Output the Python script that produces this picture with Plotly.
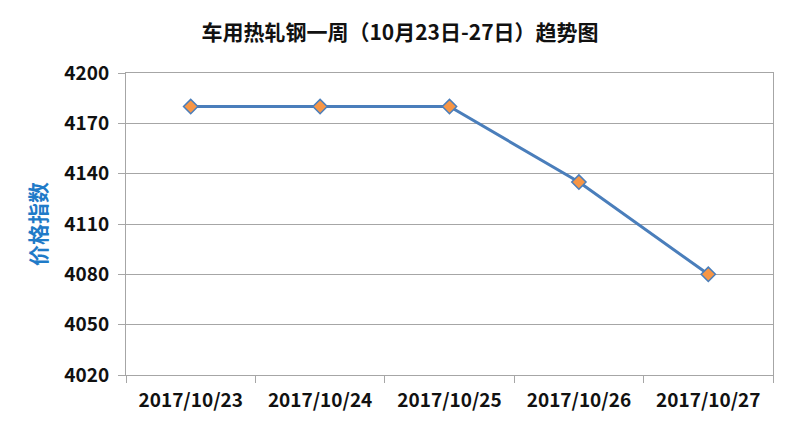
import plotly.graph_objects as go

# data
dates = ["2017/10/23", "2017/10/24", "2017/10/25", "2017/10/26", "2017/10/27"]
price_index = [4180, 4180, 4180, 4135, 4080]
y_ticks = [4020, 4050, 4080, 4110, 4140, 4170, 4200]

FONT = "Noto Sans CJK SC"

fig = go.Figure()

fig.add_trace(go.Scatter(
    x=dates,
    y=price_index,
    mode="lines+markers",
    line=dict(color="#4A7EBB", width=3),
    marker=dict(symbol="diamond", size=11, color="#F79646",
                line=dict(color="#4A7EBB", width=1.5)),
    showlegend=False,
))

# note: the page body has an 8px margin, so margins are shifted by 8
fig.update_layout(
    width=800,
    height=424,
    paper_bgcolor="white",
    plot_bgcolor="white",
    margin=dict(l=118, r=35, t=65, b=57),
    title=dict(
        text="<b>车用热轧钢一周（10月23日-27日）趋势图</b>",
        x=0.49, xanchor="center", y=0.943, yanchor="middle",
        font=dict(family=FONT, size=21, color="#111111"),
    ),
    xaxis=dict(
        type="category",
        tickson="boundaries",
        ticks="outside",
        ticklen=7,
        tickcolor="#A6A6A6",
        showline=True,
        linecolor="#A6A6A6",
        mirror=True,
        showgrid=False,
        ticklabelstandoff=8,
        tickfont=dict(family=FONT, size=19, color="#111111", weight="bold"),
        range=[-0.5, 4.5],
    ),
    yaxis=dict(
        range=[4020, 4200],
        tickvals=y_ticks,
        ticks="outside",
        ticklen=7,
        tickcolor="#A6A6A6",
        showline=True,
        linecolor="#A6A6A6",
        mirror=True,
        gridcolor="#A6A6A6",
        gridwidth=1,
        zeroline=False,
        ticklabelstandoff=5,
        tickfont=dict(family=FONT, size=19, color="#111111", weight="bold"),
        title=dict(
            text="<b>价格指数</b>",
            font=dict(family=FONT, size=21, color="#1F7BC8"),
            standoff=12,
        ),
    ),
)

fig.write_html("out.html")
